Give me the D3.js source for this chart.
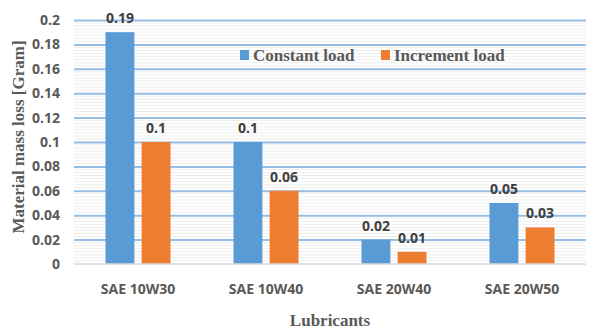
<!DOCTYPE html>
<html>
<head>
<meta charset="utf-8">
<script src="https://cdn.jsdelivr.net/npm/d3@7"></script>
<style>
  body { margin: 0; background: #fff; }
  svg { display: block; }
</style>
</head>
<body>
<svg id="chart" width="599" height="331"></svg>
<script>
const categories = ["SAE 10W30", "SAE 10W40", "SAE 20W40", "SAE 20W50"];
const seriesNames = ["Constant load", "Increment load"];
const constantLoad = [0.19, 0.1, 0.02, 0.05];
const incrementLoad = [0.1, 0.06, 0.01, 0.03];
const yTicks = [0, 0.02, 0.04, 0.06, 0.08, 0.1, 0.12, 0.14, 0.16, 0.18, 0.2];
const colors = ["#5b9bd5", "#ed7d31"];

const svg = d3.select("#chart");
const margin = { left: 74, right: 13, top: 20, bottom: 67 };
const W = 599, H = 331;
const sansFont = "'Open Sans', sans-serif";
const serifFont = "'Liberation Serif', serif";

const x = d3.scaleBand().domain(categories)
  .range([margin.left, W - margin.right]).paddingInner(0).paddingOuter(0);
const xs = d3.scaleBand().domain(seriesNames)
  .range([0, 65]).paddingInner(0.2);
const y = d3.scaleLinear().domain([0, 0.2]).range([H - margin.bottom, margin.top]);

// faint striped background between gridlines
const minor = d3.range(0.0025, 0.2, 0.0025).filter(v => Math.abs(v / 0.02 - Math.round(v / 0.02)) > 1e-6);
svg.append("g").selectAll("line").data(minor).join("line")
  .attr("x1", margin.left).attr("x2", W - margin.right)
  .attr("y1", d => y(d)).attr("y2", d => y(d))
  .attr("stroke", "#eeeeee").attr("stroke-width", 1);

// major gridlines
const grid = d3.axisLeft(y).tickValues(yTicks.slice(1))
  .tickSize(-(W - margin.left - margin.right)).tickFormat("");
svg.append("g").attr("transform", `translate(${margin.left},0)`).call(grid)
  .call(g => g.select(".domain").remove())
  .call(g => g.selectAll("line").attr("stroke", "#95bee5").attr("stroke-width", 2));

// y tick labels
const yAxis = d3.axisLeft(y).tickValues(yTicks).tickSize(0).tickPadding(14)
  .tickFormat(d => d3.format("")(+d.toFixed(2)));
svg.append("g").attr("transform", `translate(${margin.left},0)`).call(yAxis)
  .call(g => g.select(".domain").remove())
  .call(g => g.selectAll("text")
    .attr("font-family", sansFont).attr("font-weight", "bold")
    .attr("font-size", 14).attr("fill", "#595959"));

// bars
const groups = svg.append("g").selectAll("g").data(categories).join("g")
  .attr("transform", d => `translate(${x(d) + x.bandwidth() / 2 - 32.5},0)`);
const rows = (cat, i) => [
  { s: seriesNames[0], v: constantLoad[i], c: colors[0] },
  { s: seriesNames[1], v: incrementLoad[i], c: colors[1] }
];
groups.each(function (cat, i) {
  const g = d3.select(this);
  const data = rows(cat, i);
  g.selectAll("rect").data(data).join("rect")
    .attr("x", d => xs(d.s)).attr("width", xs.bandwidth())
    .attr("y", d => y(d.v)).attr("height", d => y(0) - y(d.v))
    .attr("fill", d => d.c);
  g.selectAll("text").data(data).join("text")
    .attr("x", d => xs(d.s) + xs.bandwidth() / 2)
    .attr("y", d => y(d.v) - 9)
    .attr("text-anchor", "middle")
    .attr("font-family", sansFont).attr("font-weight", "bold")
    .attr("font-size", 14).attr("fill", "#404040")
    .text(d => d.v);
});

// baseline
svg.append("line").attr("x1", margin.left).attr("x2", W - margin.right)
  .attr("y1", y(0)).attr("y2", y(0)).attr("stroke", "#d9d9d9").attr("stroke-width", 1.5);

// x axis labels
const xAxis = d3.axisBottom(x).tickSize(0).tickPadding(20);
svg.append("g").attr("transform", `translate(0,${y(0)})`).call(xAxis)
  .call(g => g.select(".domain").remove())
  .call(g => g.selectAll("text")
    .attr("font-family", sansFont).attr("font-weight", "bold")
    .attr("font-size", 14).attr("fill", "#595959"));

// axis titles
svg.append("text").attr("x", (margin.left + W - margin.right) / 2).attr("y", 326)
  .attr("text-anchor", "middle")
  .attr("font-family", serifFont).attr("font-weight", "bold")
  .attr("font-size", 17).attr("fill", "#595959").text("Lubricants");
svg.append("text").attr("transform", "translate(24,137) rotate(-90)")
  .attr("text-anchor", "middle")
  .attr("font-family", serifFont).attr("font-weight", "bold")
  .attr("font-size", 17).attr("fill", "#595959").text("Material mass loss [Gram]");

// legend
const legend = svg.append("g").attr("transform", "translate(240,55)");
const items = legend.selectAll("g").data(seriesNames).join("g")
  .attr("transform", (d, i) => `translate(${i * 141},0)`);
items.append("rect").attr("x", 0).attr("y", -5).attr("width", 9).attr("height", 10)
  .attr("fill", (d, i) => colors[i]);
items.append("text").attr("x", 13).attr("y", 6)
  .attr("font-family", serifFont).attr("font-weight", "bold")
  .attr("font-size", 17).attr("fill", "#595959").text(d => d);
</script>
</body>
</html>
